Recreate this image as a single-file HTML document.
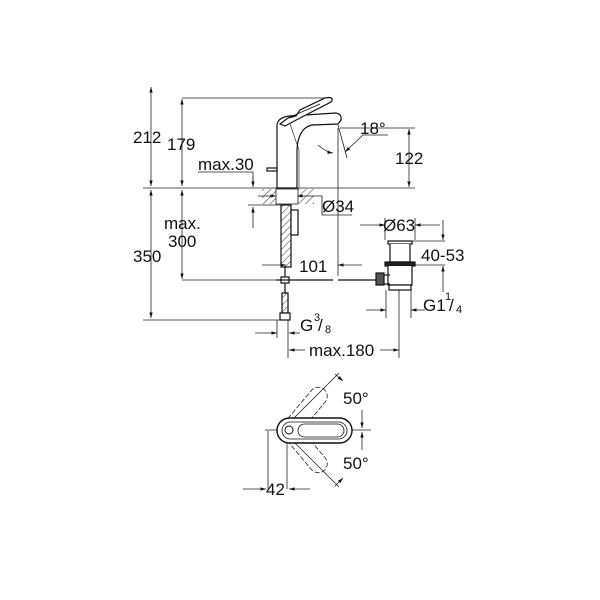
<!DOCTYPE html>
<html><head><style>
html,body{margin:0;padding:0;background:#fff;width:600px;height:600px;overflow:hidden}
svg text{font-family:"Liberation Sans",sans-serif;fill:#111}
</style></head><body>
<svg width="600" height="600" viewBox="0 0 600 600" xmlns="http://www.w3.org/2000/svg">
<defs>
<marker id="a" viewBox="0 0 10 10" refX="10" refY="5" markerWidth="7" markerHeight="7" orient="auto-start-reverse"><path d="M0,2 L10,5 L0,8 z" fill="#111"/></marker>
<pattern id="h" width="5" height="5" patternUnits="userSpaceOnUse" patternTransform="rotate(45)"><line x1="0" y1="0" x2="0" y2="5" stroke="#333" stroke-width="1"/></pattern>
</defs>
<g stroke="#222" stroke-width="0.8" fill="none">
<line x1="143" y1="188" x2="415" y2="188"/>
<line x1="182" y1="98" x2="330" y2="98"/>
<line x1="143" y1="320" x2="285" y2="320"/>
<line x1="182" y1="280" x2="285" y2="280"/>
<line x1="340" y1="128" x2="415" y2="128"/>
<line x1="151" y1="87" x2="151" y2="186" marker-start="url(#a)" marker-end="url(#a)"/>
<line x1="151" y1="190" x2="151" y2="318" marker-start="url(#a)" marker-end="url(#a)"/>
<line x1="182" y1="99" x2="182" y2="186" marker-start="url(#a)" marker-end="url(#a)"/>
<line x1="182" y1="190" x2="182" y2="279" marker-start="url(#a)" marker-end="url(#a)"/>
<line x1="409" y1="129" x2="409" y2="187" marker-start="url(#a)" marker-end="url(#a)"/>
<polyline points="198,172 253,172 253,186"/>
<line x1="253" y1="176" x2="253" y2="187" marker-end="url(#a)"/>
<line x1="253" y1="228" x2="253" y2="207" marker-end="url(#a)"/>
<line x1="248" y1="205" x2="290" y2="205"/>
<line x1="258" y1="196" x2="276" y2="196" marker-end="url(#a)"/>
<line x1="312" y1="196" x2="297" y2="196" marker-end="url(#a)"/>
<polyline points="312,196 322,196 322,215 352,215"/>
<line x1="262" y1="265" x2="286" y2="265" marker-end="url(#a)"/>
<line x1="362" y1="265" x2="338" y2="265" marker-end="url(#a)"/>
<line x1="338" y1="128" x2="338" y2="276"/>
<path d="M318,145 Q326,152 333,153" marker-end="url(#a)"/>
<polyline points="388,135 363,135 345,152" marker-end="url(#a)"/>
<line x1="338" y1="125" x2="347" y2="158"/>
<line x1="255" y1="333" x2="277" y2="333" marker-end="url(#a)"/>
<line x1="300" y1="333" x2="289" y2="333" marker-end="url(#a)"/>
<line x1="277" y1="320" x2="277" y2="338"/>
<line x1="288" y1="320" x2="288" y2="358"/>
<line x1="289" y1="350" x2="305" y2="350" marker-start="url(#a)"/>
<line x1="380" y1="350" x2="399" y2="350" marker-end="url(#a)"/>
<line x1="399" y1="290" x2="399" y2="358"/>
<line x1="360" y1="225" x2="385" y2="225" marker-end="url(#a)"/>
<line x1="440" y1="225" x2="415" y2="225" marker-end="url(#a)"/>
<line x1="385" y1="218" x2="385" y2="240"/>
<line x1="415" y1="218" x2="415" y2="240"/>
<line x1="412" y1="241" x2="445" y2="241"/>
<line x1="412" y1="265" x2="445" y2="265"/>
<line x1="443" y1="220" x2="443" y2="240" marker-end="url(#a)"/>
<line x1="443" y1="292" x2="443" y2="266" marker-end="url(#a)"/>
<line x1="366" y1="310" x2="386" y2="310" marker-end="url(#a)"/>
<line x1="425" y1="310" x2="411" y2="310" marker-end="url(#a)"/>
<line x1="386" y1="290" x2="386" y2="318"/>
<line x1="411" y1="290" x2="411" y2="318"/>
</g>
<rect x="262" y="189" width="52" height="15" fill="url(#h)"/>
<rect x="276" y="189" width="22" height="15" fill="#fff" stroke="#222" stroke-width="0.8"/>
<g stroke="#111" stroke-width="1.2" fill="#fff">
<path d="M277,188 L277,125 Q278,117 290,116 L336,113 Q342,114 341,120 L338,124 L312,125 Q298,128 297,150 L297,188 Z"/>
<path d="M280,124 L288,118 L296,116 L300,110 L325,98 Q335,96 331,102 L300,118 L285,126 Z" fill="#fff"/>
<path d="M288,118 L320,104" fill="none" stroke-width="0.8"/>
<path d="M290,124 L299,150 L299,188" fill="none" stroke-width="0.6"/>
<rect x="267" y="168" width="10" height="3"/>
<rect x="281" y="205" width="10" height="62" fill="url(#h)"/>
<rect x="291" y="210" width="7" height="25"/>
<line x1="285" y1="266" x2="285" y2="293"/>
<rect x="281" y="277" width="8" height="6"/>
<line x1="276" y1="280" x2="333" y2="280"/>
<line x1="338" y1="280" x2="378" y2="280"/>
<rect x="282" y="293" width="6" height="20" fill="url(#h)"/>
<rect x="280" y="313" width="10" height="7"/>
<rect x="388" y="241" width="24" height="3"/>
<path d="M390,244 L390,262 L410,262 L410,244"/>
<rect x="385" y="262" width="30" height="4" fill="#222"/>
<path d="M388,266 L388,285 L412,285 L412,266"/>
<rect x="389" y="285" width="22" height="5"/>
<rect x="376" y="273" width="8" height="12" fill="#555"/>
<line x1="384" y1="275" x2="390" y2="275"/><line x1="384" y1="284" x2="390" y2="284"/>
</g>
<g stroke="#222" stroke-width="0.8" fill="none">
<line x1="268" y1="431" x2="268" y2="489"/>
<line x1="287" y1="431" x2="287" y2="489"/>
<line x1="243" y1="489" x2="266" y2="489" marker-end="url(#a)"/>
<line x1="310" y1="489" x2="289" y2="489" marker-end="url(#a)"/>
<line x1="265" y1="430" x2="371" y2="430"/>
<line x1="290" y1="422" x2="339" y2="373"/>
<line x1="290" y1="438" x2="339" y2="487"/>
<line x1="335" y1="374" x2="343" y2="381" marker-end="url(#a)"/>
<line x1="362" y1="410" x2="362" y2="428" marker-end="url(#a)"/>
<line x1="362" y1="450" x2="362" y2="432" marker-end="url(#a)"/>
<line x1="335" y1="486" x2="343" y2="478" marker-end="url(#a)"/>
<g stroke-dasharray="5,2">
<rect x="-9" y="-9" width="62" height="18" rx="9" transform="translate(290,430) rotate(-50)"/>
<rect x="-9" y="-9" width="62" height="18" rx="9" transform="translate(290,430) rotate(50)"/>
</g>
</g>
<g stroke="#111" stroke-width="1.4" fill="#fff">
<rect x="277" y="418" width="75" height="25" rx="12.5"/>
<rect x="282" y="422" width="65" height="17" rx="8.5" stroke-width="0.8"/>
<rect x="298" y="424" width="46" height="13" rx="6.5" stroke-width="0.8"/>
<circle cx="289" cy="430" r="4" stroke-width="1"/>
</g>
<g font-size="17">
<text x="133" y="143">212</text>
<text x="167" y="150">179</text>
<text x="198" y="170">max.30</text>
<text x="395" y="164">122</text>
<text x="360" y="134">18°</text>
<text x="322" y="212">Ø34</text>
<text x="164" y="229">max.</text>
<text x="168" y="247">300</text>
<text x="133" y="262">350</text>
<text x="299" y="272">101</text>
<text x="383" y="231">Ø63</text>
<text x="421" y="261">40-53</text>
<text x="423" y="311">G1</text>
<text x="445" y="300" font-size="11">1</text>
<text x="449" y="311">/</text><text x="456" y="313" font-size="11">4</text>
<text x="300" y="331">G</text>
<text x="314" y="321" font-size="11">3</text>
<text x="318" y="331">/</text><text x="325" y="333" font-size="11">8</text>
<text x="309" y="356">max.180</text>
<text x="343" y="404">50°</text>
<text x="343" y="469">50°</text>
<text x="266" y="495">42</text>
</g>
</svg>
</body></html>
